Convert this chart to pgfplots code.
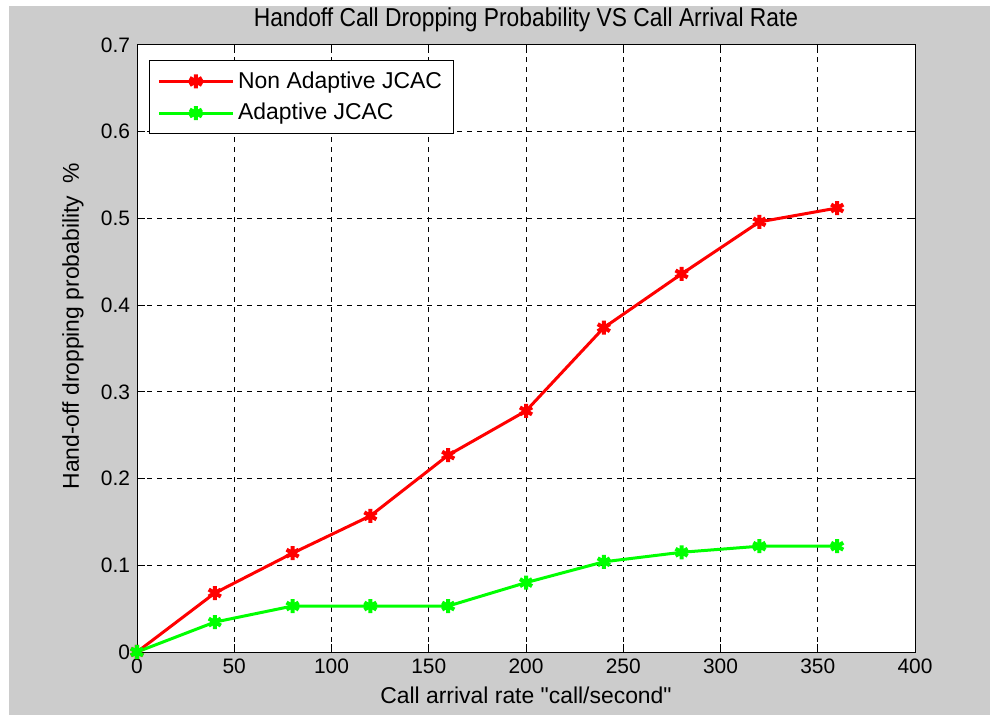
\documentclass[border=0pt]{standalone}
\usepackage{fontspec}
\setmainfont{Liberation Sans}
\newfontfamily\narrowfont[FakeStretch=0.88]{Liberation Sans}
\usepackage{pgfplots}
\pgfplotsset{compat=1.18}
\definecolor{figgray}{RGB}{204,204,204}
\begin{document}
\begin{tikzpicture}
\useasboundingbox (-68.5bp,-31.5bp) rectangle (426.5bp,326bp);
\fill[white] (-68.5bp,-31.5bp) rectangle (426.5bp,326bp);
\fill[figgray] (-64bp,-31.5bp) rectangle (426.5bp,323bp);
\begin{axis}[
  at={(0,0)}, anchor=south west,
  scale only axis, width=389bp, height=303.5bp,
  xmin=0, xmax=400, ymin=0, ymax=0.7,
  xtick={0,50,...,400}, ytick={0,0.1,...,0.7},
  yticklabel style={/pgf/number format/fixed, /pgf/number format/precision=1},
  /pgf/number format/assume math mode=true,
  tick label style={font=\fontsize{10.5}{12}\selectfont},
  tick align=inside, major tick length=4bp,
  axis background/.style={fill=white},
  axis line style={black, line width=0.5bp},
  every tick/.style={black, line width=0.5bp},
  grid=major,
  major grid style={black, line width=0.5bp, dash pattern=on 2.5bp off 2.5bp},
  xlabel={Call arrival rate \textquotedbl call/second\textquotedbl},
  xlabel style={font=\fontsize{11.5}{13}\selectfont, at={(axis description cs:0.5,-0.071)}, anchor=center},
  ylabel={Hand-off dropping probability\ \ \%},
  ylabel style={font=\fontsize{11.5}{13}\selectfont, at={(axis description cs:-0.0823,0.537)}, anchor=center, rotate=0},
  legend style={at={(axis description cs:0.0154,0.975)}, anchor=north west,
    draw=black, line width=0.5bp, fill=white, font=\fontsize{11.5}{13}\selectfont,
    inner xsep=4bp, inner ysep=3.5bp, row sep=2bp},
  legend cell align=left,
  legend image code/.code={
    \draw[#1, mark repeat=2, mark phase=2] plot coordinates {(0cm,0cm) (0.65cm,0cm) (1.3cm,0cm)};
  },
]
\addplot[color=red, line width=1.5bp, mark=asterisk, mark size=3.5bp, mark options={line width=2bp}] coordinates {
(0,0) (40,0.068) (80,0.114) (120,0.157) (160,0.227) (200,0.278) (240,0.374) (280,0.436) (320,0.496) (360,0.512)
};
\addlegendentry{Non Adaptive JCAC}
\addplot[color=green, line width=1.5bp, mark=asterisk, mark size=3.5bp, mark options={line width=2bp}] coordinates {
(0,0) (40,0.0345) (80,0.053) (120,0.053) (160,0.053) (200,0.080) (240,0.104) (280,0.115) (320,0.122) (360,0.122)
};
\addlegendentry{Adaptive JCAC}
\end{axis}
\node[anchor=center, inner sep=0pt] at (194.5bp,316bp) {\narrowfont\fontsize{13}{15}\selectfont Handoff Call Dropping Probability VS Call Arrival Rate};
\end{tikzpicture}
\end{document}
